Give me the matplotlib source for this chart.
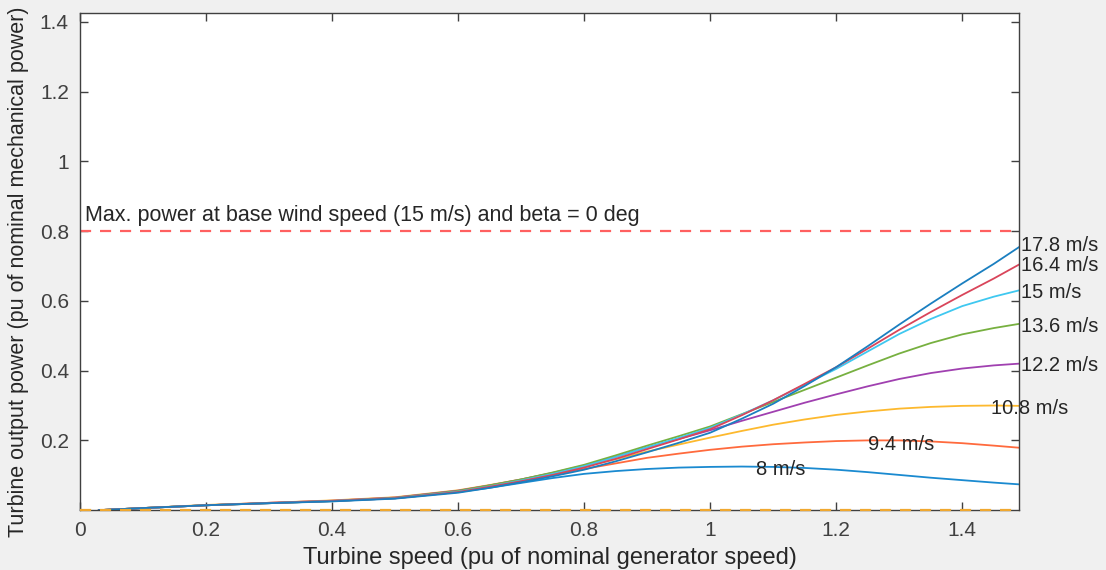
import matplotlib.pyplot as plt

plt.rcParams['font.family'] = ['Liberation Sans', 'DejaVu Sans']

# turbine speed (pu)
speed = [0.03, 0.1, 0.2, 0.3, 0.4, 0.5, 0.6, 0.65, 0.7, 0.75, 0.8, 0.85, 0.9, 0.95, 1.0,
         1.05, 1.1, 1.15, 1.2, 1.25, 1.3, 1.35, 1.4, 1.45, 1.49]

# output power (pu) for each wind speed
p_8 = [0, 0.006, 0.014, 0.020, 0.026, 0.034, 0.052, 0.064, 0.078, 0.092, 0.104, 0.112, 0.118,
       0.122, 0.124, 0.125, 0.124, 0.121, 0.116, 0.109, 0.101, 0.093, 0.086, 0.079, 0.074]
p_94 = [0, 0.006, 0.014, 0.021, 0.027, 0.036, 0.055, 0.069, 0.085, 0.101, 0.118, 0.134, 0.150,
        0.162, 0.173, 0.182, 0.189, 0.194, 0.198, 0.200, 0.200, 0.197, 0.192, 0.185, 0.179]
p_108 = [0, 0.006, 0.015, 0.021, 0.028, 0.037, 0.057, 0.072, 0.088, 0.106, 0.125, 0.146, 0.168,
         0.188, 0.208, 0.227, 0.245, 0.260, 0.273, 0.283, 0.291, 0.296, 0.299, 0.300, 0.299]
p_122 = [0, 0.006, 0.014, 0.021, 0.027, 0.036, 0.056, 0.071, 0.088, 0.107, 0.128, 0.153, 0.180,
         0.204, 0.229, 0.256, 0.282, 0.308, 0.332, 0.355, 0.376, 0.393, 0.406, 0.415, 0.420]
p_136 = [0, 0.006, 0.014, 0.020, 0.026, 0.035, 0.055, 0.071, 0.088, 0.108, 0.130, 0.157, 0.185,
         0.212, 0.240, 0.275, 0.310, 0.345, 0.380, 0.415, 0.449, 0.479, 0.504, 0.522, 0.534]
p_15 = [0, 0.006, 0.014, 0.020, 0.026, 0.034, 0.053, 0.068, 0.085, 0.104, 0.126, 0.152, 0.180,
        0.207, 0.236, 0.274, 0.315, 0.360, 0.405, 0.455, 0.505, 0.548, 0.585, 0.612, 0.630]
p_164 = [0, 0.006, 0.014, 0.020, 0.026, 0.034, 0.052, 0.067, 0.083, 0.101, 0.122, 0.147, 0.175,
         0.203, 0.232, 0.272, 0.315, 0.362, 0.410, 0.463, 0.517, 0.568, 0.617, 0.664, 0.704]
p_178 = [0, 0.006, 0.014, 0.020, 0.025, 0.033, 0.050, 0.064, 0.080, 0.097, 0.116, 0.140, 0.166,
         0.193, 0.222, 0.262, 0.305, 0.356, 0.410, 0.470, 0.532, 0.592, 0.650, 0.706, 0.754]

wind_labels = ['8 m/s', '9.4 m/s', '10.8 m/s', '12.2 m/s', '13.6 m/s', '15 m/s', '16.4 m/s', '17.8 m/s']
curves = [p_8, p_94, p_108, p_122, p_136, p_15, p_164, p_178]
colors = ['#1a8ad0', '#ff6a3d', '#fdb92e', '#a040b0', '#77b040', '#3fc8f0', '#d9455a', '#1a7fc0']

max_power = 0.8

fig = plt.figure(figsize=(11.06, 5.70), dpi=100, facecolor='#f0f0f0')
ax = fig.add_axes([0.0723, 0.105, 0.849, 0.872])
ax.set_facecolor('white')

for p, c in zip(curves, colors):
    ax.plot(speed, p, color=c, lw=1.3)

ax.axhline(max_power, color='#ff6060', ls=(0, (5, 4)), lw=1.6)
ax.axhline(0, color='#f0a830', ls=(0, (5, 4)), lw=1.6, clip_on=False, zorder=5)

ax.text(0.008, 0.844, 'Max. power at base wind speed (15 m/s) and beta = 0 deg',
        fontsize=15.5, color='#262626', va='center')

txt = dict(fontsize=14.5, color='#262626', va='center', clip_on=False)
ax.text(1.494, 0.758, wind_labels[7], **txt)
ax.text(1.494, 0.701, wind_labels[6], **txt)
ax.text(1.494, 0.624, wind_labels[5], **txt)
ax.text(1.494, 0.526, wind_labels[4], **txt)
ax.text(1.494, 0.415, wind_labels[3], **txt)
ax.text(1.445, 0.290, wind_labels[2], **txt)
ax.text(1.250, 0.189, wind_labels[1], **txt)
ax.text(1.072, 0.117, wind_labels[0], **txt)

ax.set_xlim(0, 1.49)
ax.set_ylim(0, 1.425)
ax.set_xticks([0, 0.2, 0.4, 0.6, 0.8, 1.0, 1.2, 1.4])
ax.set_xticklabels(['0', '0.2', '0.4', '0.6', '0.8', '1', '1.2', '1.4'])
ax.set_yticks([0.2, 0.4, 0.6, 0.8, 1.0, 1.2, 1.4])
ax.set_yticklabels(['0.2', '0.4', '0.6', '0.8', '1', '1.2', '1.4'])
ax.tick_params(direction='in', length=6, width=1, colors='#404040', labelsize=15,
               top=True, right=True, pad=8)
for s in ax.spines.values():
    s.set_color('#404040')
    s.set_linewidth(1)

ax.set_xlabel('Turbine speed (pu of nominal generator speed)', fontsize=17, color='#262626', labelpad=5)
ax.set_ylabel('Turbine output power (pu of nominal mechanical power)', fontsize=15.5, color='#262626')
ax.yaxis.set_label_coords(-0.054, 0.48)

fig.savefig('out.png', dpi=100, facecolor=fig.get_facecolor())
